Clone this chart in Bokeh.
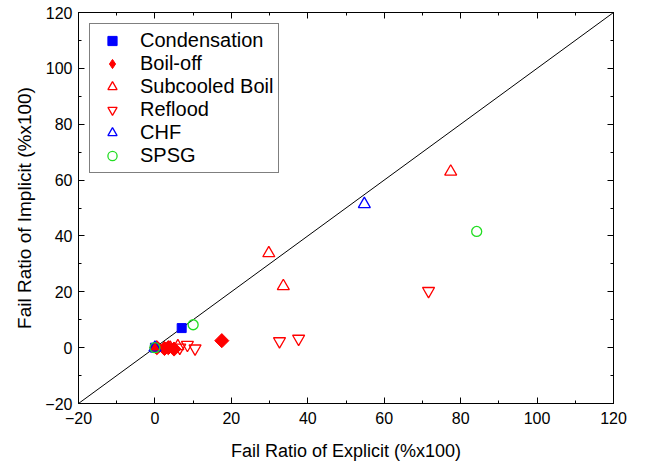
import math
from bokeh.plotting import figure
from bokeh.models import LinearAxis, Legend, LegendItem, Range1d
from bokeh.embed import file_html
from bokeh.resources import INLINE

# Data
cond_x = [0.0, 7.0]
cond_y = [0.0, 7.0]
boil_x = [0.5, 2.5, 3.5, 5.0, 17.5]
boil_y = [0.0, -0.3, 0.0, -0.5, 2.5]
sub_x = [4.0, 6.0, 29.8, 33.6, 77.4]
sub_y = [0.0, 0.5, 33.8, 22.0, 63.0]
refl_x = [6.5, 8.5, 10.5, 32.6, 37.6, 71.6]
refl_y = [0.0, 1.0, -0.3, 2.3, 3.2, 20.3]
chf_x = [0.0, 54.8]
chf_y = [0.0, 51.4]
spsg_x = [0.0, 10.0, 84.2]
spsg_y = [0.0, 8.2, 41.6]
diag = [-20, 120]

FONT = "Liberation Sans"

p = figure(width=638, height=463, output_backend="svg", toolbar_location=None,
           x_range=Range1d(-20, 120), y_range=Range1d(-20, 120),
           min_border_left=78, min_border_right=25, min_border_top=12, min_border_bottom=53)
p.grid.visible = False
p.outline_line_color = "black"
p.outline_line_width = 1

p.line(diag, diag, line_color="black", line_width=1)

r_cond = p.scatter(cond_x, cond_y, marker="square", size=9, fill_color="blue", line_color="blue")
r_boil = p.scatter(boil_x, boil_y, marker="square", angle=math.pi / 4, size=10,
                   fill_color="red", line_color="red")
# legend-only proxy (not drawn in the plot area)
r_boil_leg = p.scatter([float("nan")], [float("nan")], marker="diamond", size=10,
                       fill_color="red", line_color="red")
r_sub = p.scatter(sub_x, sub_y, marker="triangle", size=12, fill_color=None, line_color="red", line_width=1.3)
r_refl = p.scatter(refl_x, refl_y, marker="inverted_triangle", size=12, fill_color=None, line_color="red", line_width=1.3)
r_chf = p.scatter(chf_x, chf_y, marker="triangle", size=12, fill_color=None, line_color="blue", line_width=1.3)
r_spsg = p.scatter(spsg_x, spsg_y, marker="circle", size=10, fill_color=None, line_color="#22dd22", line_width=1.3)

for ax in [p.xaxis[0], p.yaxis[0]]:
    ax.major_tick_in = 6
    ax.major_tick_out = 0
    ax.minor_tick_in = 3
    ax.minor_tick_out = 0
    ax.axis_line_color = "black"
    ax.major_label_text_font = FONT
    ax.major_label_text_font_size = "16px"
    ax.major_label_text_color = "black"
    ax.axis_label_text_font = FONT
    ax.axis_label_text_font_size = "18px"
    ax.axis_label_text_font_style = "normal"
    ax.axis_label_text_color = "black"
    ax.ticker.desired_num_ticks = 8
    ax.ticker.num_minor_ticks = 2

p.xaxis[0].axis_label = "Fail Ratio of Explicit (%x100)"
p.yaxis[0].axis_label = "Fail Ratio of Implicit (%x100)"
p.yaxis[0].axis_label_text_font_size = "19px"
p.xaxis[0].major_label_standoff = 8
p.yaxis[0].major_label_standoff = 6
p.xaxis[0].axis_label_standoff = 14
p.yaxis[0].axis_label_standoff = 7

for loc in ["above", "right"]:
    ax = LinearAxis(major_tick_in=6, major_tick_out=0, minor_tick_in=3, minor_tick_out=0,
                    major_label_text_font_size="1px", major_label_text_color=None,
                    major_label_standoff=0, axis_line_color="black")
    ax.ticker.desired_num_ticks = 8
    ax.ticker.num_minor_ticks = 2
    p.add_layout(ax, loc)

legend = Legend(items=[
    LegendItem(label="Condensation", renderers=[r_cond]),
    LegendItem(label="Boil-off", renderers=[r_boil_leg]),
    LegendItem(label="Subcooled Boil", renderers=[r_sub]),
    LegendItem(label="Reflood", renderers=[r_refl]),
    LegendItem(label="CHF", renderers=[r_chf]),
    LegendItem(label="SPSG", renderers=[r_spsg]),
], location="top_left")
legend.label_text_font = FONT
legend.label_text_font_size = "20px"
legend.label_text_color = "black"
legend.border_line_color = "black"
legend.border_line_width = 1
legend.margin = 11
legend.padding = 5
legend.spacing = 0
legend.label_standoff = 11
legend.glyph_width = 34
legend.label_height = 23
legend.glyph_height = 23
legend.background_fill_alpha = 1
p.add_layout(legend, "center")

open("out.html", "w").write(file_html(p, INLINE))
